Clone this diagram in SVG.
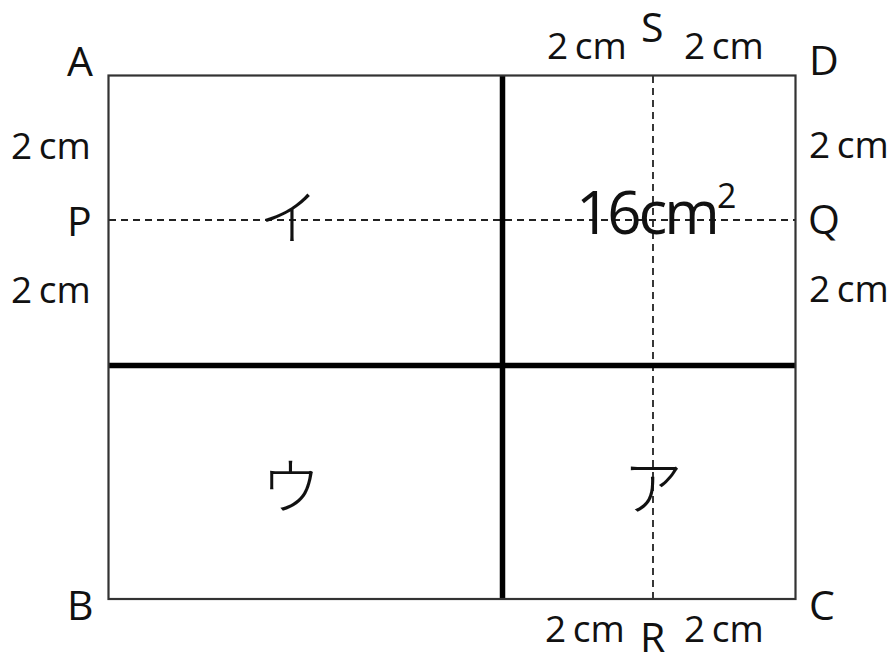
<svg xmlns="http://www.w3.org/2000/svg" width="895" height="654" viewBox="0 0 895 654">
<style>
.lbl{font-family:"Open Sans","Noto Sans",sans-serif;font-size:41px;fill:#111}
.dim{font-family:"Open Sans","Noto Sans",sans-serif;font-size:37px;fill:#111;word-spacing:-3px}
.kana{font-family:"Noto Sans CJK JP",sans-serif;font-size:60px;font-weight:300;fill:#111;text-anchor:middle}
.outline{fill:none;stroke:#333;stroke-width:2.2}
.thick{stroke:#000;stroke-width:5.5;fill:none}
.dash{stroke:#222;stroke-width:1.8;stroke-dasharray:7 5;fill:none}
</style>
<rect width="895" height="654" fill="#fff"/>
<g id="connectors">
<line class="dash" x1="109" y1="220" x2="795" y2="220"/>
<line class="dash" x1="653" y1="76" x2="653" y2="599"/>
<line class="thick" x1="502.5" y1="76" x2="502.5" y2="599"/>
<line class="thick" x1="109" y1="365.5" x2="795" y2="365.5"/>
</g>
<g id="rect"><rect class="outline" x="108.5" y="75.5" width="687" height="523.5"/></g>
<g id="labels">
<text class="lbl" x="67" y="76">A</text>
<text class="lbl" x="67" y="620">B</text>
<text class="lbl" x="809" y="620">C</text>
<text class="lbl" x="809" y="75">D</text>
<text class="lbl" x="67" y="236">P</text>
<text class="lbl" x="808" y="234">Q</text>
<text class="lbl" x="641" y="42">S</text>
<text class="lbl" x="640" y="652">R</text>
<text class="dim" x="11" y="159">2 cm</text>
<text class="dim" x="11" y="303">2 cm</text>
<text class="dim" x="809" y="158">2 cm</text>
<text class="dim" x="809" y="302">2 cm</text>
<text class="dim" x="547" y="59">2 cm</text>
<text class="dim" x="684" y="59">2 cm</text>
<text class="dim" x="545" y="642">2 cm</text>
<text class="dim" x="684" y="642">2 cm</text>
</g>
<g id="region-i"><text class="kana" x="289" y="240">イ</text></g>
<g id="region-u"><text class="kana" x="291" y="509">ウ</text></g>
<g id="region-a"><text class="kana" x="653" y="510">ア</text>
<text x="576" y="234" font-family="Open Sans, Noto Sans, sans-serif" font-size="60" fill="#111" letter-spacing="-3">16cm<tspan font-size="34" dy="-26" letter-spacing="0">2</tspan></text></g>
</svg>
